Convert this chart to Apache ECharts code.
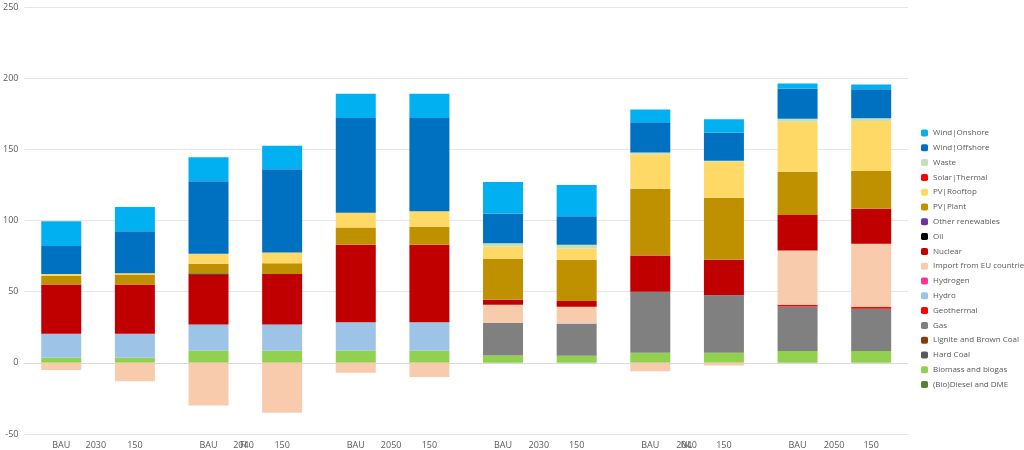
<!DOCTYPE html>
<html>
<head>
<meta charset="utf-8">
<script src="https://cdn.jsdelivr.net/npm/echarts@6/dist/echarts.min.js"></script>
<style>html,body{margin:0;padding:0;background:#fff}#chart{width:1024px;height:450px}</style>
</head>
<body>
<div id="chart"></div>
<script>
// bars: FI 2030 BAU/150, 2040, 2050, then NL same
var scenarios = ['BAU', '150', 'BAU', '150', 'BAU', '150', 'BAU', '150', 'BAU', '150', 'BAU', '150'];
var years = ['2030', '2040', '2050', '2030', '2040', '2050'];
var countries = ['FI', 'NL'];
var yTicks = { min: -50, max: 250, interval: 50 };

var bioDiesel = [0, 0, 0, 0, 0, 0, 0, 0, 0, 0, 0, 0];
var biomass = [3.5, 3.5, 8.5, 8.5, 8.5, 8.5, 5.2, 5, 7, 7, 8.4, 8.4];
var hardCoal = [0, 0, 0, 0, 0, 0, 0, 0, 0, 0, 0, 0];
var lignite = [0, 0, 0, 0, 0, 0, 0, 0, 0, 0, 0, 0];
var gas = [0, 0, 0, 0, 0, 0, 22.8, 22.5, 42.9, 40.4, 31.2, 29.6];
var geothermal = [0, 0, 0, 0, 0, 0, 0, 0, 0, 0, 1.2, 1.2];
var hydro = [17, 17, 18.5, 18.5, 20, 20, 0, 0.3, 0, 0, 0, 0];
var hydrogen = [0, 0, 0, 0, 0, 0, 0, 0, 0, 0, 0, 0];
var importEU = [-5, -13, -30, -35, -7, -10, 12.8, 11.6, -5.9, -1.8, 38.2, 44.4];
var nuclear = [34.5, 34.5, 35, 35.5, 54.5, 54.5, 3.6, 4.1, 25.5, 25, 24.8, 24.6];
var oil = [0, 0, 0.7, 0, 0, 0, 0, 0, 0, 0, 0, 0];
var otherRen = [0, 0, 0, 0, 0, 0, 0, 0, 0, 0, 0, 0];
var pvPlant = [6, 7, 7, 7.5, 12, 12.5, 28.5, 28.9, 46.9, 43.5, 30.5, 26.6];
var pvRooftop = [1.5, 1, 7, 7.5, 10.5, 11, 8.8, 8, 24.1, 25.5, 35.1, 35.1];
var solarThermal = [0, 0, 0, 0, 0, 0, 0, 0, 0, 0, 0, 0];
var waste = [0, 0, 0, 0, 0, 0, 2.3, 2.5, 1.4, 0.6, 2, 2];
var windOffshore = [19.5, 29.5, 50.8, 58.5, 66.5, 65.5, 21, 20.1, 21.2, 19.9, 21.4, 20.3];
var windOnshore = [17.5, 17, 17, 16.5, 17, 17, 22, 22, 9, 9.3, 3.5, 3.4];

var defs = [
  ['(Bio)Diesel and DME', bioDiesel, '#548235'],
  ['Biomass and biogas', biomass, '#92D050'],
  ['Hard Coal', hardCoal, '#595959'],
  ['Lignite and Brown Coal', lignite, '#843C0C'],
  ['Gas', gas, '#808080'],
  ['Geothermal', geothermal, '#FF0000'],
  ['Hydro', hydro, '#9DC3E6'],
  ['Hydrogen', hydrogen, '#FF3399'],
  ['Import from EU countries', importEU, '#F8CBAD'],
  ['Nuclear', nuclear, '#C00000'],
  ['Oil', oil, '#000000'],
  ['Other renewables', otherRen, '#7030A0'],
  ['PV|Plant', pvPlant, '#BF9000'],
  ['PV|Rooftop', pvRooftop, '#FFD966'],
  ['Solar|Thermal', solarThermal, '#FF0000'],
  ['Waste', waste, '#C5E0B4'],
  ['Wind|Offshore', windOffshore, '#0070C0'],
  ['Wind|Onshore', windOnshore, '#00B0F0']
];

var series = defs.map(function (d) {
  return {
    name: d[0], type: 'bar', stack: 'total', data: d[1], barWidth: 40,
    itemStyle: { color: d[2] }, emphasis: { disabled: true }
  };
});

var lbl = { color: '#595959', fontSize: 9, fontFamily: 'Open Sans' };
var gridBox = { left: 22, right: 116, top: 7, bottom: 4 };

// three stacked grids so each category level can sit on the zero line
function yAx(i) {
  return {
    type: 'value', gridIndex: i, min: yTicks.min, max: yTicks.max, interval: yTicks.interval,
    show: i === 0,
    axisLabel: Object.assign({ margin: 6, align: 'right' }, lbl),
    splitLine: { show: i === 0, lineStyle: { color: '#e6e6e6' } }
  };
}

var chart = echarts.init(document.getElementById('chart'));
chart.setOption({
  animation: false,
  grid: [gridBox, gridBox, gridBox],
  legend: {
    orient: 'vertical', left: 916, top: 124, itemWidth: 7, itemHeight: 7, itemGap: 6.8,
    data: defs.map(function (d) { return d[0]; }).reverse(),
    textStyle: { color: '#595959', fontSize: 8, fontFamily: 'Open Sans' }
  },
  xAxis: [
    { type: 'category', gridIndex: 0, data: scenarios, axisLine: { onZero: true, lineStyle: { color: '#d9d9d9' } },
      axisTick: { show: false }, axisLabel: Object.assign({ margin: 7 }, lbl) },
    { type: 'category', gridIndex: 1, data: years, axisLine: { onZero: true, lineStyle: { opacity: 0 } },
      axisTick: { length: 34, lineStyle: { color: '#d9d9d9' } }, axisLabel: Object.assign({ margin: 24 }, lbl) },
    { type: 'category', gridIndex: 2, data: countries, axisLine: { onZero: true, lineStyle: { opacity: 0 } },
      axisTick: { length: 52, lineStyle: { color: '#d9d9d9' } }, axisLabel: Object.assign({ margin: 41 }, lbl) }
  ],
  yAxis: [yAx(0), yAx(1), yAx(2)],
  series: series
});
</script>
</body>
</html>
